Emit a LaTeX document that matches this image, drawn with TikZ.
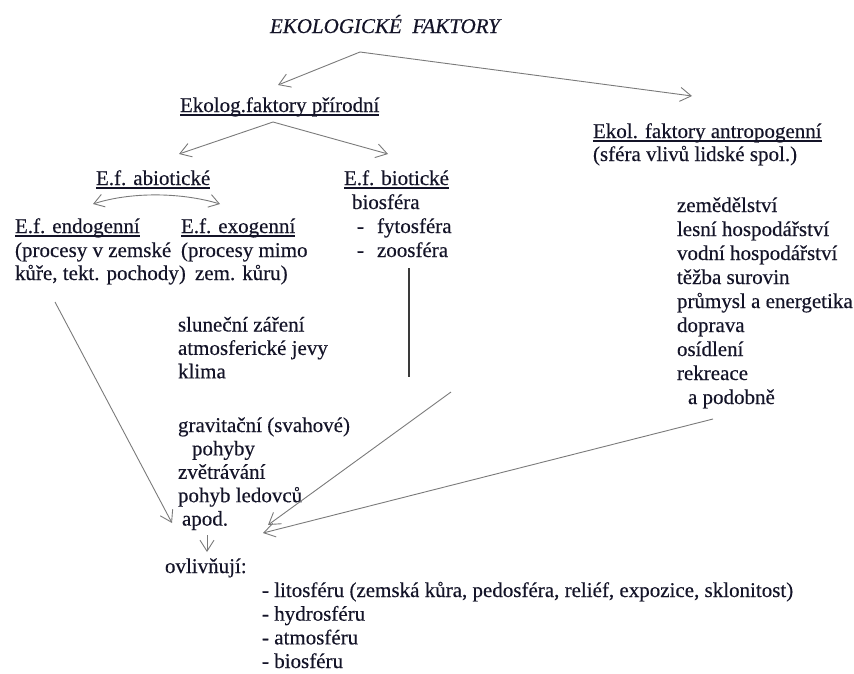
\documentclass[tikz,border=0pt]{standalone}
\usepackage{fontspec}
\setmainfont{Liberation Serif}
\newfontfamily\inkfont{Liberation Serif}[FakeBold=0.35]
\usetikzlibrary{arrows.meta,calc}
\definecolor{ink}{HTML}{141428}
\definecolor{arr}{HTML}{7A7A7A}
\definecolor{vln}{HTML}{3A3A3A}
\begin{document}
\begin{tikzpicture}[x=1pt,y=-1pt,
  txt/.style={anchor=base west,inner sep=0pt,outer sep=0pt,text=ink,font=\inkfont\fontsize{21}{24}\selectfont},
  ttl/.style={txt,font=\inkfont\fontsize{21}{24}\selectfont\itshape},
  uline/.style={draw=ink,line width=1.2pt},
  conn/.style={draw=arr,line width=0.9pt,-{Straight Barb[length=11pt,width=14pt,line width=0.9pt]}},
  dconn/.style={draw=arr,line width=0.9pt,{Straight Barb[length=10pt,width=13pt,line width=0.9pt]}-{Straight Barb[length=10pt,width=13pt,line width=0.9pt]}},
  vline/.style={draw=vln,line width=2pt},
]
\useasboundingbox (0,0) rectangle (854,673);
\newcommand{\ulin}[1]{\draw[uline] ([yshift=-3pt]#1.base west) -- ([yshift=-3pt]#1.base east);}

% headings
\node[ttl] (title) at (270,33) {EKOLOGICKÉ\hspace{0.5em}FAKTORY};
\node[txt] (prir) at (180,112) {Ekolog.faktory přírodní}; \ulin{prir}
\node[txt] (antr) at (593,138) {Ekol. faktory antropogenní}; \ulin{antr}
\node[txt] (antr2) at (593,161) {(sféra vlivů lidské spol.)};
\node[txt] (abio) at (96,185) {E.f. abiotické}; \ulin{abio}
\node[txt] (bio) at (344,185) {E.f. biotické}; \ulin{bio}
\node[txt] (bio1) at (352,209) {biosféra};
\node[txt] (bio2) at (357,233) {\makebox[20pt][l]{-}fytosféra};
\node[txt] (bio3) at (357,257) {\makebox[20pt][l]{-}zoosféra};
\node[txt] (endo) at (15,233) {E.f. endogenní}; \ulin{endo}
\node[txt] (endo1) at (15,257) {(procesy v zemské};
\node[txt] (endo2) at (15,280) {kůře, tekt. pochody)};
\node[txt] (exo) at (181,233) {E.f. exogenní}; \ulin{exo}
\node[txt] (exo1) at (181,257) {(procesy mimo};
\node[txt] (exo2) at (195,280) {zem. kůru)};

% exogenous list
\node[txt] (x1) at (178,331.5) {sluneční záření};
\node[txt] (x2) at (178,354.9) {atmosferické jevy};
\node[txt] (x3) at (178,378.3) {klima};
\node[txt] (x4) at (178,432) {gravitační (svahové)};
\node[txt] (x5) at (192,455.4) {pohyby};
\node[txt] (x6) at (178,478.8) {zvětrávání};
\node[txt] (x7) at (178,502.2) {pohyb ledovců};
\node[txt] (x8) at (182,525.6) {apod.};

% anthropogenic list
\node[txt] (a1) at (677,212) {zemědělství};
\node[txt] (a2) at (677,236) {lesní hospodářství};
\node[txt] (a3) at (677,260) {vodní hospodářství};
\node[txt] (a4) at (677,284) {těžba surovin};
\node[txt] (a5) at (677,308) {průmysl a energetika};
\node[txt] (a6) at (677,332) {doprava};
\node[txt] (a7) at (677,356) {osídlení};
\node[txt] (a8) at (677,380) {rekreace};
\node[txt] (a9) at (688,404) {a podobně};

% result
\node[txt] (ovl) at (165,573) {ovlivňují:};
\node[txt] (o1) at (262,597) {- litosféru (zemská kůra, pedosféra, reliéf, expozice, sklonitost)};
\node[txt] (o2) at (262,620.7) {- hydrosféru};
\node[txt] (o3) at (262,644.4) {- atmosféru};
\node[txt] (o4) at (262,668) {- biosféru};

% connector end points
\coordinate (t0) at (360,52);
\coordinate (prirIn) at (278,85);
\coordinate (antrIn) at (692,96);
\coordinate (p0) at (273,122);
\coordinate (abioIn) at (179,154);
\coordinate (bioIn) at (388,154);
\coordinate (dl) at (93,204);
\coordinate (dr) at (220,204);
\coordinate (vl0) at (409,268);
\coordinate (vl1) at (409,377);
\coordinate (endoOut) at (55,302);
\coordinate (endoIn) at (172,523);
\coordinate (bioOut) at (451,392);
\coordinate (bioRes) at (268,525);
\coordinate (antrOut) at (713,419);
\coordinate (antrRes) at (263,533);
\coordinate (d0) at (207,535);
\coordinate (d1) at (207,552);

\draw[conn] (t0) -- (prirIn);
\draw[conn] (t0) -- (antrIn);
\draw[conn] (p0) -- (abioIn);
\draw[conn] (p0) -- (bioIn);
\draw[dconn] (dl) .. controls (130,192) and (180,192) .. (dr);
\draw[vline] (vl0) -- (vl1);
\draw[conn] (endoOut) -- (endoIn);
\draw[conn] (bioOut) -- (bioRes);
\draw[conn] (antrOut) -- (antrRes);
\draw[conn] (d0) -- (d1);
\end{tikzpicture}
\end{document}
